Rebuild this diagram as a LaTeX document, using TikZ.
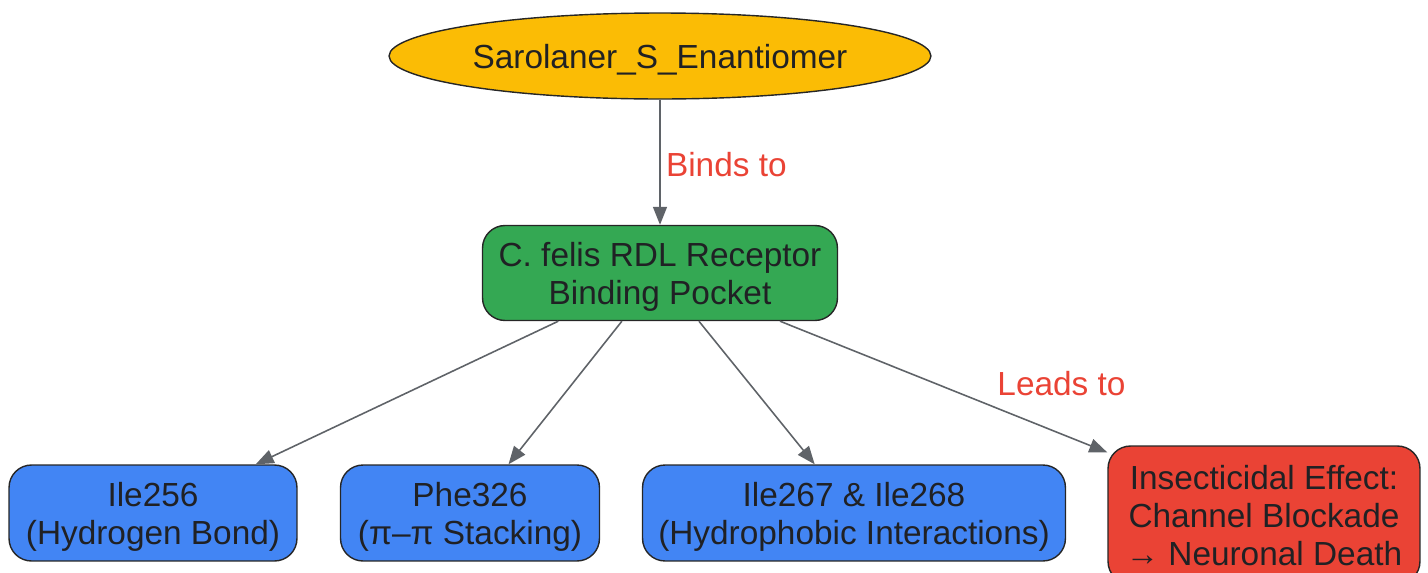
\documentclass[tikz,border=0pt]{standalone}
\usepackage{fontspec}
\setmainfont{Liberation Sans}
\usepackage{tikz}
\usetikzlibrary{arrows.meta,shapes.geometric}
\definecolor{gOrange}{HTML}{FBBC05}
\definecolor{gGreen}{HTML}{34A853}
\definecolor{gBlue}{HTML}{4285F4}
\definecolor{gRed}{HTML}{EA4335}
\definecolor{gEdge}{HTML}{5F6368}
\definecolor{gText}{HTML}{202124}
\tikzset{
  box/.style={draw=black!85, line width=0.8pt, rounded corners=0.45cm, align=center,
    text=gText, inner sep=0pt, text depth=-3.2pt, font=\fontsize{19}{21.6}\selectfont},
  link/.style={draw=gEdge, line width=0.9pt, -{Triangle[length=0.36cm,width=0.28cm]}},
  lbl/.style={text=gRed, font=\fontsize{19}{21.6}\selectfont, inner sep=3pt}
}

\begin{document}
\begin{tikzpicture}[x=0.02cm, y=-0.02cm]
			%%%%% START %%%%%
			
			\useasboundingbox (0, 0) rectangle (1428, 572);
			
			\node[box, ellipse, fill=gOrange, minimum width=10.84cm, minimum height=1.72cm] (sarolaner) at (660, 56) {Sarolaner\_S\_Enantiomer};
			
			\node[box, fill=gGreen, minimum width=7.1cm, minimum height=1.9cm] (pocket) at (660, 273) {C. felis RDL Receptor\\Binding Pocket};
			
			\node[box, fill=gBlue, minimum width=5.76cm, minimum height=1.92cm] (ile256) at (153, 513) {Ile256\\(Hydrogen Bond)};
			\node[box, fill=gBlue, minimum width=5.18cm, minimum height=1.92cm] (phe326) at (470, 513) {Phe326\\(π–π Stacking)};
			\node[box, fill=gBlue, minimum width=8.46cm, minimum height=1.92cm] (ile267) at (854, 513) {Ile267 \& Ile268\\(Hydrophobic Interactions)};
			
			\node[box, fill=gRed, minimum width=6.24cm, minimum height=2.76cm] (effect) at (1264, 515) {Insecticidal Effect:\\Channel Blockade\\→ Neuronal Death};
			
			\draw[link] (sarolaner) -- node[lbl, right, pos=0.52] {Binds to} (pocket);
			
			\draw[link] (pocket) -- (ile256);
			\draw[link] (pocket) -- (phe326);
			\draw[link] (pocket) -- (ile267);
			\draw[link] (pocket) -- node[lbl, pos=0.86, yshift=1.02cm] {Leads to} (effect);
			
			%%%%% END %%%%%
		\end{tikzpicture}
\end{document}
